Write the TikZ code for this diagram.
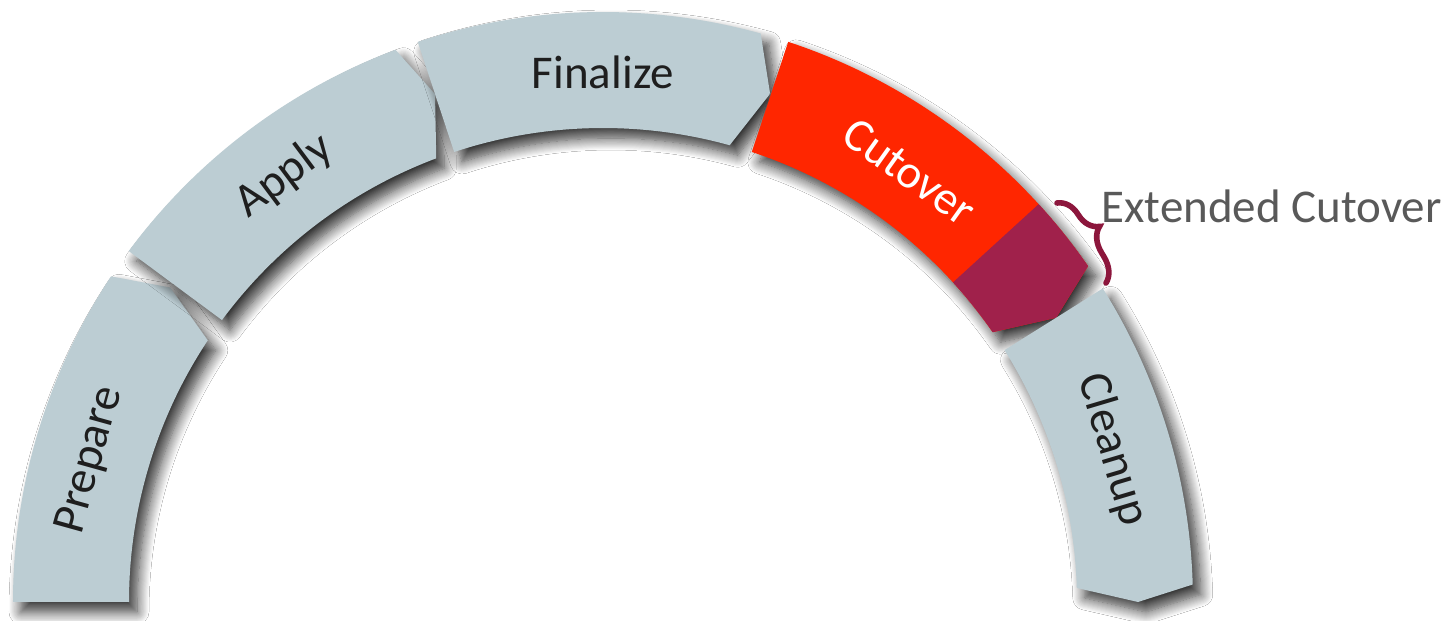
\documentclass[tikz,border=0pt]{standalone}
\usepackage{fontspec}
\setmainfont{Carlito}
\usetikzlibrary{shadows.blur,decorations.pathreplacing}
\definecolor{segc}{RGB}{188,205,211}
\definecolor{cutred}{RGB}{255,38,0}
\definecolor{extmaroon}{RGB}{160,33,75}
\definecolor{bracec}{RGB}{140,22,60}
\definecolor{labc}{RGB}{30,30,30}
\definecolor{extc}{RGB}{89,89,89}
\begin{document}
\begin{tikzpicture}[x=0.5pt,y=0.5pt,
  segshadow/.style={blur shadow={shadow xshift=4pt, shadow yshift=-5pt, shadow blur radius=6pt, shadow blur steps=12, shadow opacity=80}},
  seg/.style={fill=segc, segshadow},
  lbl/.style={font=\fontsize{23.5}{28}\selectfont, text=labc, inner sep=0pt},
  bracestyle/.style={draw=bracec, line width=2.8pt, line cap=round, decorate, decoration={brace, amplitude=12pt, aspect=0.45}},
]
\useasboundingbox (0,0) rectangle (1451,621);
\fill[white] (0,0) rectangle (1451,621);
\begin{scope}[shift={(603,19)}]
  % Prepare
  \path[seg] (180:590) arc[start angle=180,end angle=146.5,radius=590] -- (144:535) -- (146.5:474) arc[start angle=146.5,end angle=180,radius=474] -- cycle;
  % Apply
  \path[seg] (143.5:590) arc[start angle=143.5,end angle=110.6,radius=590] -- (108.3:535) -- (110.6:474) arc[start angle=110.6,end angle=143.5,radius=474] -- cycle;
  % Finalize
  \path[seg] (108.3:590) arc[start angle=108.3,end angle=74.5,radius=590] -- (71.8:535) -- (74.5:474) arc[start angle=74.5,end angle=108.3,radius=474] -- cycle;
  % Cutover + extended
  \path[fill=cutred, segshadow] (71.7:590) arc[start angle=71.7,end angle=34.7,radius=590] -- (32.1:535) -- (34.7:474) arc[start angle=34.7,end angle=71.7,radius=474] -- cycle;
  \path[fill=extmaroon] (42.4:590) arc[start angle=42.4,end angle=34.7,radius=590] -- (32.1:535) -- (34.7:474) arc[start angle=34.7,end angle=42.4,radius=474] -- cycle;
  % Cleanup
  \path[seg] (32.1:590) arc[start angle=32.1,end angle=1.7,radius=590] -- (0:535) -- (1.7:474) arc[start angle=1.7,end angle=32.1,radius=474] -- cycle;

  \node[lbl, rotate=74.5] (prep) at (164.5:532) {Prepare};
  \node[lbl, rotate=36.8] (apply) at (126.8:532) {Apply};
  \node[lbl] (final) at (90:530) {Finalize};
  \node[lbl, rotate=-35.5, text=white] (cut) at (54.5:528) {Cutover};
  \node[lbl, rotate=-73.4] (clean) at (16.6:532) {Cleanup};
\end{scope}
\coordinate (bt) at (1057,418);
\coordinate (bb) at (1106,338);
\draw[bracestyle] (bt) -- (bb);
\node[lbl, text=extc, anchor=base west] (ext) at (1101,398) {Extended Cutover};
\end{tikzpicture}
\end{document}
